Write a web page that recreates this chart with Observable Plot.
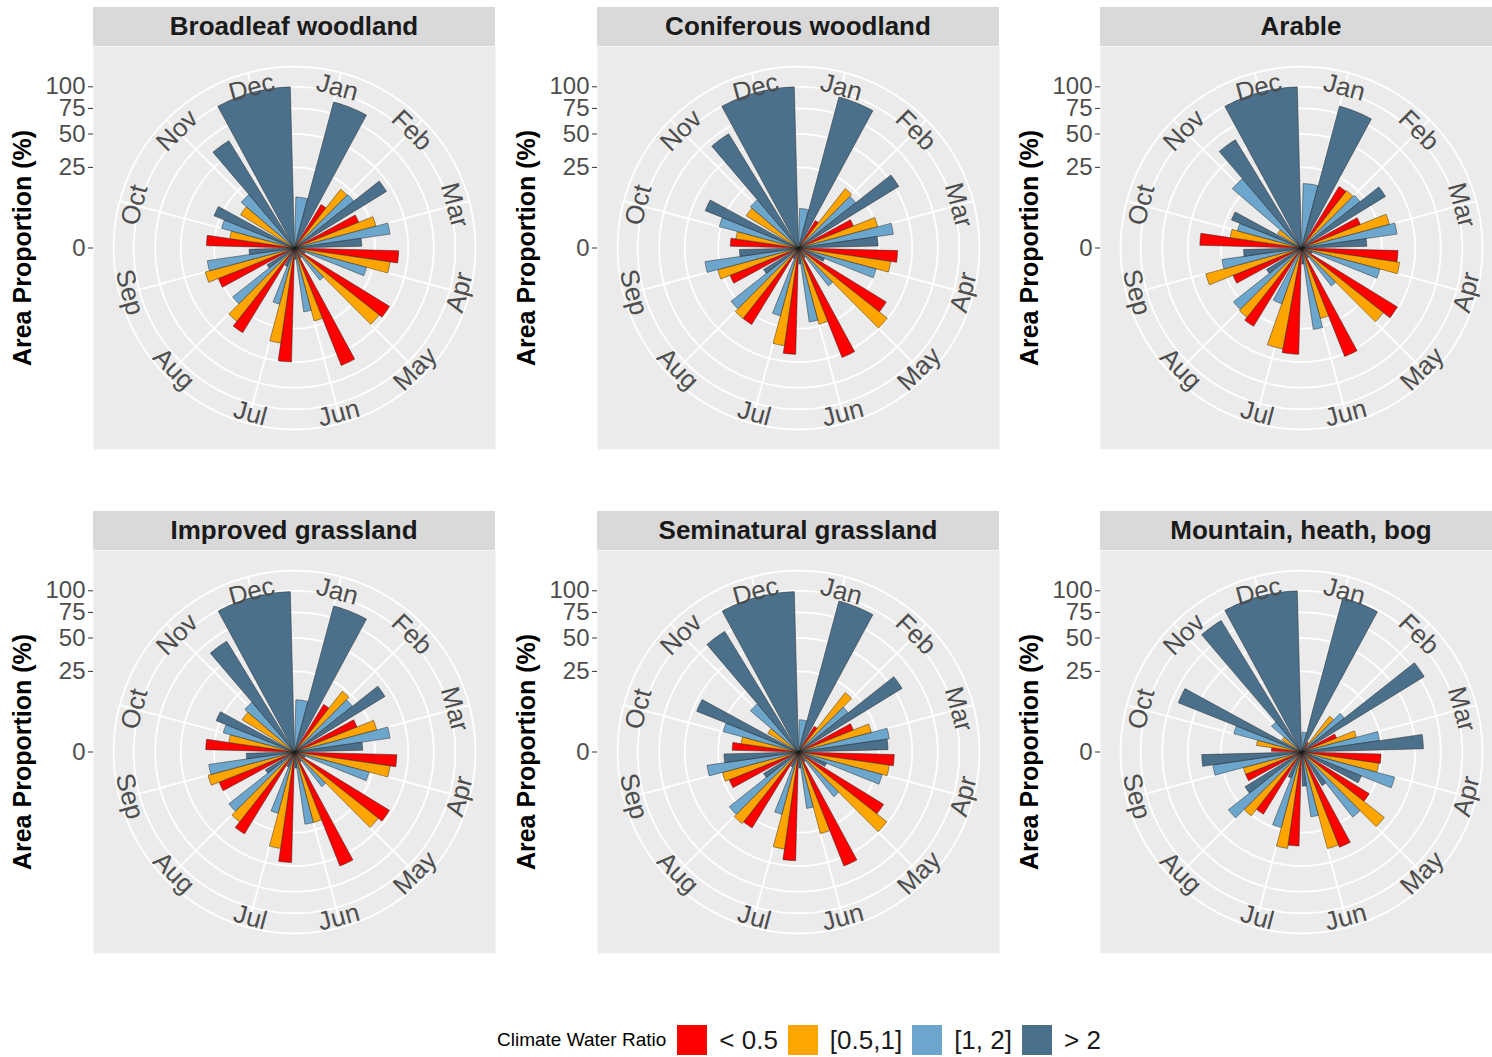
<!DOCTYPE html>
<html>
<head>
<meta charset="utf-8">
<script src="https://cdn.jsdelivr.net/npm/d3@7"></script>
<script src="https://cdn.jsdelivr.net/npm/@observablehq/plot@0.6"></script>
<style>
  body { margin: 0; background: #ffffff; }
  #root { position: relative; width: 1492px; height: 1057px; overflow: hidden; background: #ffffff;
          font-family: "Liberation Sans", Arial, sans-serif; }
  .strip { position: absolute; width: 402px; height: 39px; background: #D9D9D9; color: #1A1A1A;
           font-weight: bold; font-size: 26px; text-align: center; line-height: 39px; }
  .panel { position: absolute; width: 495px; height: 403px; }
  .panel svg { max-width: none !important; }
  #legend { position: absolute; left: 497px; top: 1025px; height: 30px; display: flex; align-items: center;
            font-family: "Liberation Sans", Arial, sans-serif; color: #000; }
  #legend .ttl { font-size: 19px; margin-right: 11px; line-height: 30px; }
  #legend .lg-swatches { font-size: 26px; font-family: "Liberation Sans", Arial, sans-serif; color: #1A1A1A;
                         min-height: 30px; display: flex; align-items: center; margin: 0; }
  #legend .lg-swatch { margin-right: 10px; line-height: 30px; display: inline-flex; align-items: center; }
  #legend .lg-swatch > svg { margin-right: 12px; }
</style>
</head>
<body>
<div id="root"></div>
<script>
// ---------------- data ----------------
const months = ["Jan","Feb","Mar","Apr","May","Jun","Jul","Aug","Sep","Oct","Nov","Dec"];
const categories = ["< 0.5", "[0.5,1]", "[1, 2]", "> 2"];
const colors = ["#FF0000", "#FFA500", "#6CA6CD", "#4A708B"];
const yTicks = [0, 25, 50, 75, 100];
const panelNames = ["Broadleaf woodland", "Coniferous woodland", "Arable",
                    "Improved grassland", "Seminatural grassland", "Mountain, heath, bog"];

// rows = months Jan..Dec ; columns = categories (< 0.5, [0.5,1], [1, 2], > 2); null = class absent
const broadleaf = [
  [null, null, 10, 88], [10, 21.5, 22, 45], [18.5, 27.5, 36, 17.5], [42, 36, 21.5, 0.5],
  [48, 45, 6.5, 0.5], [61.5, 22, 16, 0.5], [50, 35.5, 13, 1.5], [38, 33.5, 24, 4],
  [26, 33, 30, 8], [30, 16.5, 22, 29], [null, 15.5, 19, 61], [null, null, null, 100]
];
const coniferous = [
  [null, null, 6, 94], [4, 22, 20.5, 53.5], [13.5, 26, 35.5, 24.5], [38, 33.5, 25, 3],
  [41, 49.5, 9, 0.5], [53.5, 24, 21.5, 1], [43.5, 37.5, 19, 0.5], [31, 31, 28.5, 6.5],
  [21, 27, 34.5, 13.5], [18, 15.5, 26, 39], [null, 14.5, 15.5, 69], [null, null, null, 100]
];
const arable = [
  [null, null, 16, 83], [20, 20.5, 21.5, 37.5], [15.5, 32, 36, 16.5], [36, 38, 25.5, 0.5],
  [49, 42, 9, 0.5], [52.5, 20.5, 26, 1], [43.5, 40.5, 13.5, null], [32.5, 30, 29, 6.5],
  [21, 38, 25, 13], [40, 20, 17, 22], [null, 3, 32, 62], [null, null, null, 100]
];
const improved = [
  [null, null, 10.5, 88], [12, 23, 21, 43.5], [17.5, 28, 36, 18], [40.5, 36, 23, 0.5],
  [48, 44, 7.5, 0.5], [58, 20.5, 20.5, 1], [47, 36.5, 15.5, 1], [35.5, 30.5, 27, 4.5],
  [25.5, 31, 29, 9], [30.5, 17, 21, 27.5], [null, 14.5, 16.5, 65], [null, null, null, 99]
];
const seminatural = [
  [null, null, 4, 94], [3.5, 22, 15.5, 57], [13.5, 22, 32.5, 31], [35.5, 32.5, 29, 3.5],
  [38.5, 49, 12.5, 0.5], [58, 27.5, 12.5, 1], [45.5, 37, 16, 1], [30.5, 32, 30, 6.5],
  [21.5, 24, 33, 21.5], [17, 13, 23.5, 46.5], [null, 5, 15.5, 77], [null, null, null, 99]
];
const mountain = [
  [null, null, 1.5, 98], [0.5, 8, 11.5, 80], [5.5, 12.5, 24, 57.5], [24.5, 23.5, 36, 16],
  [24.5, 43, 26.5, 6], [40.5, 38.5, 16.5, 4.5], [34, 36.5, 23.5, 3], [20.5, 25.5, 33.5, 17],
  [14, 14, 31, 38.5], [3.5, 8, 19, 68], [null, 2, 6, 91.5], [null, null, null, 100]
];
const panelValues = [broadleaf, coniferous, arable, improved, seminatural, mountain];

// ---------------- helpers ----------------
const FONT = '"Liberation Sans", Arial, sans-serif';
const rad = (v) => Math.sqrt(v / 100);           // sqrt radial scale, 1 = 100 %
const OUTER = 1.125;                               // outer polar ring
const toRad = (deg) => deg * Math.PI / 180;
const monthCenter = (i) => 30 * i + 15;

function wedges(vals) {
  const pts = [];
  months.forEach((m, i) => {
    const present = categories.map((c, k) => k).filter(k => vals[i][k] != null);
    const w = 27 / present.length;
    present.forEach((k, j) => {
      const a0 = 30 * i + 1.5 + j * w, a1 = a0 + w;
      const r = rad(vals[i][k]);
      const id = m + "-" + k, cat = categories[k];
      pts.push({id, cat, x: 0, y: 0});
      const steps = Math.max(3, Math.ceil(w * 1.5));
      for (let s = 0; s <= steps; s++) {
        const a = toRad(a0 + (a1 - a0) * s / steps);
        pts.push({id, cat, x: r * Math.sin(a), y: r * Math.cos(a)});
      }
      pts.push({id, cat, x: 0, y: 0});
    });
  });
  return pts;
}

const ringRadii = yTicks.filter(v => v > 0).map(rad).concat([OUTER]);
const ringPts = [];
ringRadii.forEach(r => {
  for (let a = 0; a <= 360; a += 2) ringPts.push({r, x: r * Math.sin(toRad(a)), y: r * Math.cos(toRad(a))});
});

const labRot = (i) => ((monthCenter(i) + 90) % 180) - 90;
const labR = (i) => { const t = monthCenter(i); return (t < 90 || t > 270) ? 1.031 : 1.062; };

function panelPlot(vals) {
  const svg = Plot.plot({
    width: 495, height: 403,
    marginLeft: 93, marginRight: 0, marginTop: 0, marginBottom: 0,
    x: {domain: [-1.25, 1.25], axis: null},
    y: {domain: [-1.25, 1.25]},
    color: {domain: categories, range: colors},
    style: {fontFamily: FONT, background: "transparent", overflow: "visible"},
    marks: [
      Plot.frame({fill: "#EBEBEB", stroke: "none"}),
      Plot.line(ringPts, {x: "x", y: "y", z: "r", stroke: "white", strokeWidth: 1.8}),
      Plot.link(months, {
        x1: () => 0, y1: () => 0,
        x2: (d, i) => OUTER * Math.sin(toRad(monthCenter(i))),
        y2: (d, i) => OUTER * Math.cos(toRad(monthCenter(i))),
        stroke: "white", strokeWidth: 1.8
      }),
      Plot.line(wedges(vals), {x: "x", y: "y", z: "id", fill: "cat", stroke: "#1a1a1a", strokeWidth: 0.5, strokeOpacity: 0.9}),
      Plot.text(months, {
        x: (d, i) => labR(i) * Math.sin(toRad(monthCenter(i))),
        y: (d, i) => labR(i) * Math.cos(toRad(monthCenter(i))),
        text: d => d, rotate: (d, i) => labRot(i),
        fontSize: 26, fill: "#4D4D4D"
      }),
      Plot.axisY(yTicks.map(rad), {
        anchor: "left", tickFormat: t => String(Math.round(100 * t * t)),
        tickSize: 5, tickPadding: 3, fontSize: 24, fill: "#4D4D4D", stroke: "#333333", label: null
      }),
      Plot.text(["Area Proportion (%)"], {
        frameAnchor: "left", dx: -71, rotate: -90, text: d => d, textAnchor: "middle",
        fontWeight: "bold", fontSize: 25, fill: "#000000"
      })
    ]
  });
  svg.style.maxWidth = "none";
  return svg;
}

// ---------------- layout ----------------
const root = document.getElementById("root");
const colX = [0, 504, 1007];
const rowY = [46, 550];
panelNames.forEach((name, p) => {
  const c = p % 3, r = Math.floor(p / 3);
  const strip = document.createElement("div");
  strip.className = "strip";
  strip.style.left = (93 + colX[c]) + "px";
  strip.style.top = (rowY[r] - 39) + "px";
  strip.textContent = name;
  root.appendChild(strip);
  const holder = document.createElement("div");
  holder.className = "panel";
  holder.style.left = colX[c] + "px";
  holder.style.top = rowY[r] + "px";
  holder.appendChild(panelPlot(panelValues[p]));
  root.appendChild(holder);
});

const legend = document.createElement("div");
legend.id = "legend";
const ttl = document.createElement("span");
ttl.className = "ttl";
ttl.textContent = "Climate Water Ratio";
legend.appendChild(ttl);
legend.appendChild(Plot.legend({
  color: {domain: categories, range: colors},
  legend: "swatches", swatchSize: 30, className: "lg"
}));
root.appendChild(legend);
</script>
</body>
</html>
